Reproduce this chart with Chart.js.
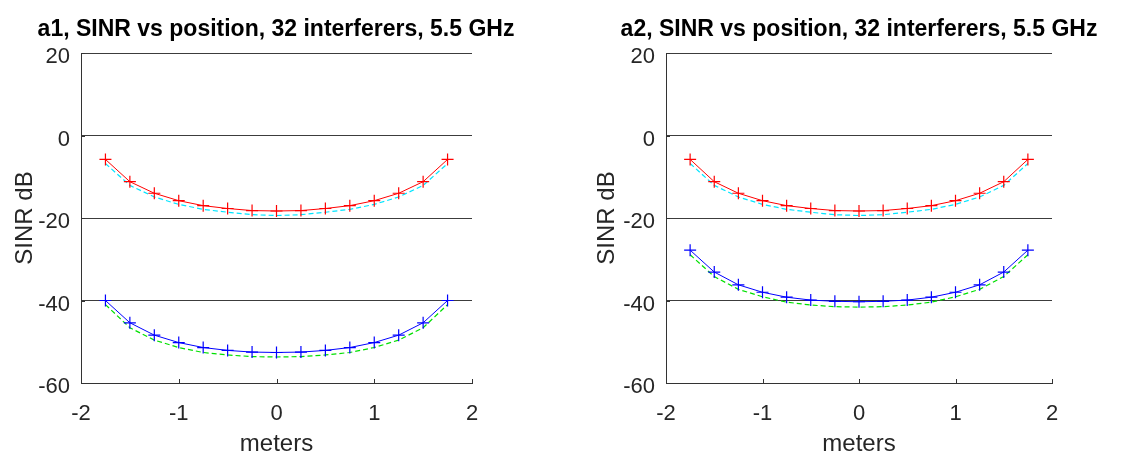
<!DOCTYPE html>
<html>
<head>
<meta charset="utf-8">
<script src="https://cdn.jsdelivr.net/npm/chart.js@4/dist/chart.umd.min.js"></script>
<style>
  html, body { margin: 0; padding: 0; background: #fff; }
  #wrap { position: relative; width: 1146px; height: 455px; }
  canvas { position: absolute; top: 0; }
  .ttl {
    position: absolute; top: 15px; height: 27px; line-height: 27px;
    font: bold 23px 'Liberation Sans', Arial, Helvetica, sans-serif;
    color: #000; text-align: center; white-space: nowrap;
  }
</style>
</head>
<body>
<div id="wrap">
  <canvas id="c1" width="573" height="455" style="left:0"></canvas>
  <canvas id="c2" width="573" height="455" style="left:573px"></canvas>
  <div class="ttl" id="t1" style="left:0; width:552px"></div>
  <div class="ttl" id="t2" style="left:573px; width:572px"></div>
</div>
<script>
// positions along the array, meters
const positions = [-1.75, -1.5, -1.25, -1, -0.75, -0.5, -0.25, 0, 0.25, 0.5, 0.75, 1, 1.25, 1.5, 1.75];

// a1
const a1Red = [-5.8, -11.2, -14.0, -15.8, -17.0, -17.7, -18.2, -18.3, -18.2, -17.7, -17.0, -15.8, -14.0, -11.2, -5.8];
const a1Cyan = [-6.8, -12.1, -14.9, -16.7, -17.9, -18.6, -19.2, -19.4, -19.2, -18.6, -17.9, -16.7, -14.9, -12.1, -6.8];
const a1Blue = [-40.0, -45.4, -48.4, -50.2, -51.4, -52.1, -52.5, -52.6, -52.5, -52.1, -51.4, -50.2, -48.4, -45.4, -40.0];
const a1Green = [-41.0, -46.6, -49.6, -51.4, -52.6, -53.2, -53.6, -53.7, -53.6, -53.2, -52.6, -51.4, -49.6, -46.6, -41.0];

// a2
const a2Red = [-5.8, -11.2, -14.0, -15.8, -17.0, -17.7, -18.2, -18.3, -18.2, -17.7, -17.0, -15.8, -14.0, -11.2, -5.8];
const a2Cyan = [-6.8, -12.1, -14.9, -16.7, -17.9, -18.6, -19.2, -19.4, -19.2, -18.6, -17.9, -16.7, -14.9, -12.1, -6.8];
const a2Blue = [-27.8, -33.1, -36.2, -38.0, -39.2, -39.9, -40.2, -40.3, -40.2, -39.9, -39.2, -38.0, -36.2, -33.1, -27.8];
const a2Green = [-28.9, -34.2, -37.3, -39.1, -40.4, -41.1, -41.5, -41.6, -41.5, -41.1, -40.4, -39.1, -37.3, -34.2, -28.9];

const xTicks = [-2, -1, 0, 1, 2];
const yTicks = [-60, -40, -20, 0, 20];
const titles = ['a1, SINR vs position, 32 interferers, 5.5 GHz', 'a2, SINR vs position, 32 interferers, 5.5 GHz'];

const FONT = 'Liberation Sans, Arial, Helvetica, sans-serif';

document.getElementById('t1').textContent = titles[0];
document.getElementById('t2').textContent = titles[1];

function pts(ys) {
  return ys.map((y, i) => ({ x: positions[i], y }));
}

// small inward tick marks like the original plot
const innerTicks = {
  id: 'innerTicks',
  afterDraw(chart) {
    const ctx = chart.ctx;
    const xs = chart.scales.x;
    const ys = chart.scales.y;
    const area = chart.chartArea;
    ctx.save();
    ctx.strokeStyle = '#333';
    ctx.lineWidth = 1;
    ctx.beginPath();
    xTicks.forEach((v) => {
      const px = Math.round(xs.getPixelForValue(v)) + 0.5;
      ctx.moveTo(px, area.bottom);
      ctx.lineTo(px, area.bottom - 4);
    });
    yTicks.forEach((v) => {
      const py = Math.round(ys.getPixelForValue(v)) + 0.5;
      ctx.moveTo(area.left, py);
      ctx.lineTo(area.left + 4, py);
    });
    ctx.stroke();
    ctx.restore();
  },
};

function makeChart(id, red, cyan, blue, green, padLeft, yWidth, padRight) {
  return new Chart(document.getElementById(id), {
    type: 'line',
    data: {
      datasets: [
        { data: pts(red), borderColor: '#ff0000', borderWidth: 1, pointStyle: 'cross', pointRadius: 6, pointBorderColor: '#ff0000', pointBorderWidth: 1.2 },
        { data: pts(cyan), borderColor: '#00e5ff', borderWidth: 1.2, borderDash: [5, 3], pointRadius: 0 },
        { data: pts(blue), borderColor: '#0000ff', borderWidth: 1, pointStyle: 'cross', pointRadius: 6, pointBorderColor: '#0000ff', pointBorderWidth: 1.2 },
        { data: pts(green), borderColor: '#00e000', borderWidth: 1.2, borderDash: [5, 3], pointRadius: 0 },
      ],
    },
    options: {
      responsive: false,
      animation: false,
      layout: { padding: { left: padLeft, right: padRight, top: 53, bottom: 0 } },
      plugins: {
        legend: { display: false },
        tooltip: { enabled: false },
      },
      scales: {
        x: {
          type: 'linear',
          min: -2,
          max: 2,
          afterBuildTicks: (axis) => { axis.ticks = xTicks.map((v) => ({ value: v })); },
          afterFit: (axis) => { axis.height = 72; },
          grid: { display: false },
          border: { display: true, color: '#333', width: 1 },
          ticks: { color: '#262626', padding: 10, font: { family: FONT, size: 22 }, maxRotation: 0 },
          title: { display: true, text: 'meters', color: '#262626', font: { family: FONT, size: 24 }, padding: { top: 0, bottom: -3.5 } },
        },
        y: {
          min: -60,
          max: 20,
          afterBuildTicks: (axis) => { axis.ticks = yTicks.map((v) => ({ value: v })); },
          afterFit: (axis) => { axis.width = yWidth; },
          grid: { color: '#3c3c3c', drawTicks: false, lineWidth: 1 },
          border: { display: true, color: '#333', width: 1 },
          ticks: { color: '#262626', padding: 11, labelOffset: 4, font: { family: FONT, size: 22 } },
          title: { display: true, text: 'SINR dB', color: '#262626', font: { family: FONT, size: 24 }, padding: { top: 11, bottom: 0 } },
        },
      },
    },
    plugins: [innerTicks],
  });
}

makeChart('c1', a1Red, a1Cyan, a1Blue, a1Green, 0, 81, 101);
makeChart('c2', a2Red, a2Cyan, a2Blue, a2Green, 9, 84, 94);
</script>
</body>
</html>
